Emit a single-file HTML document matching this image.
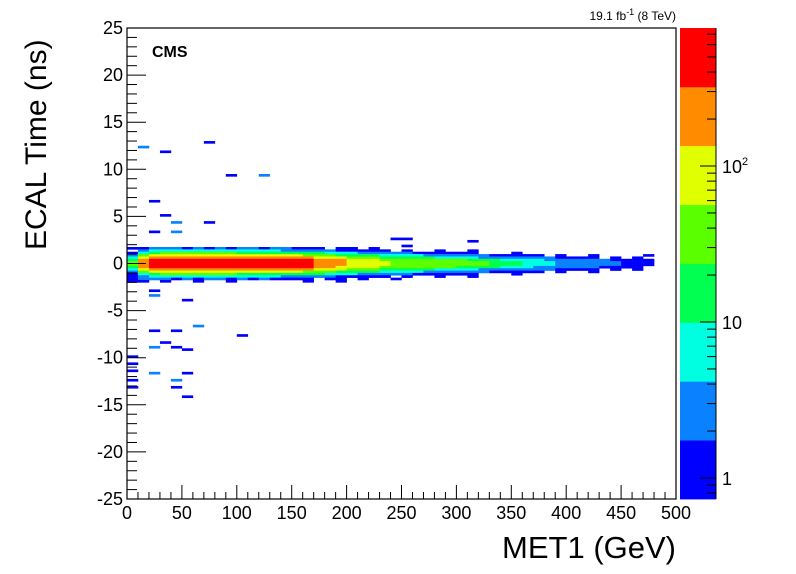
<!DOCTYPE html>
<html><head><meta charset="utf-8"><style>
body{margin:0;background:#fff;}
svg{display:block;font-family:"Liberation Sans",Arial,sans-serif;}
</style></head><body>
<svg id="chart" width="796" height="574" viewBox="0 0 796 574" xmlns="http://www.w3.org/2000/svg">
<rect width="796" height="574" fill="#fff"/>
<g id="cells"></g>
<g id="axes"></g>
<text x="152" y="57" font-size="16" font-weight="bold">CMS</text>
<text x="676" y="20" font-size="12" text-anchor="end">19.1 fb<tspan dy="-5" font-size="9">-1</tspan><tspan dy="5"> (8 TeV)</tspan></text>
<text transform="translate(46,250) rotate(-90)" font-size="30" text-anchor="start">ECAL Time (ns)</text>
<text x="676" y="558" font-size="31" text-anchor="end">MET1 (GeV)</text>
<g id="cbar"></g>
</svg>
<script>
const xBinWidth = 10;
const yBinHeight = 0.25;
const rowY = [1.5,1.25,1.0,0.75,0.5,0.25,0,-0.25,-0.5,-0.75,-1.0,-1.25,-1.5,-1.75,-2.0];
const row_p150=[1,1,2,2,2,1,3,1,2,1,2,2,1,2,2,1,1,1,0,1,1,0,1,0,0,0,0,0,0,0,0,0,0,0,0,0,0,0,0,0,0,0,0,0,0,0,0,0,0,0];
const row_p125=[0,2,5,6,7,7,7,6,6,6,5,5,5,5,4,4,3,2,2,1,1,1,1,1,0,1,0,0,1,0,0,1,0,0,0,0,0,0,0,0,0,0,0,0,0,0,0,0,0,0];
const row_p100=[1,8,20,25,28,28,28,25,24,24,22,20,20,20,18,18,14,10,8,6,5,4,3,2,2,2,1,1,1,1,1,1,0,0,0,1,0,0,0,0,0,0,0,0,0,0,0,0,0,0];
const row_p075=[3,30,90,110,110,110,110,100,95,95,90,80,80,80,75,75,55,40,30,22,18,14,10,8,7,6,5,4,3,3,2,2,2,1,1,1,1,1,0,1,0,0,1,0,0,0,0,0,0,0];
const row_p050=[8,90,250,300,300,300,300,280,260,260,240,220,220,220,200,200,150,110,80,60,45,35,28,22,18,15,12,10,9,7,6,5,4,4,3,3,2,2,2,1,1,1,1,0,1,0,1,0,0,0];
const row_p025=[20,220,600,700,700,700,700,650,600,600,580,560,560,560,520,500,380,280,180,140,110,80,65,55,45,40,35,30,30,25,25,20,16,12,9,7,6,5,4,3,3,2,2,2,1,1,1,1,0,0];
const row_p000=[25,250,700,800,800,800,800,750,700,700,650,600,600,600,550,550,400,300,200,150,120,90,70,60,50,45,40,40,35,35,30,30,25,20,15,10,8,6,5,4,3,3,2,2,2,1,1,1,0,0];
const row_m025=[25,250,700,800,800,800,800,750,700,700,650,600,600,600,550,550,400,300,200,150,120,90,70,60,50,45,40,40,35,35,30,30,25,20,15,10,8,6,5,4,3,3,2,2,2,1,1,1,0,0];
const row_m050=[20,200,560,650,650,650,650,600,560,560,540,520,520,520,480,460,350,260,170,130,100,75,60,50,40,35,32,30,28,25,22,20,15,12,9,7,5,4,3,3,2,2,2,1,1,1,1,0,0,0];
const row_m075=[8,90,250,300,300,300,300,280,260,260,240,220,220,220,200,200,150,110,80,60,45,35,28,22,18,15,12,10,9,7,6,5,4,4,3,3,2,2,2,1,1,1,1,0,1,0,1,0,0,0];
const row_m100=[3,30,90,110,110,110,110,100,95,95,90,80,80,80,75,75,55,40,30,22,18,14,10,8,7,6,5,4,3,3,2,2,2,1,1,1,1,1,0,1,0,0,1,0,0,0,0,0,0,0];
const row_m125=[1,8,20,25,28,28,28,25,24,24,22,20,20,20,18,18,14,10,8,6,5,4,3,2,2,2,1,1,1,1,1,1,0,0,0,1,0,0,0,0,0,0,0,0,0,0,0,0,0,0];
const row_m150=[1,3,5,6,7,7,7,6,6,6,5,5,5,5,4,4,3,2,2,1,1,1,1,1,0,1,0,0,1,0,0,1,0,0,0,0,0,0,0,0,0,0,0,0,0,0,0,0,0,0];
const row_m175=[1,2,2,2,1,2,1,2,2,1,2,1,2,1,1,1,1,0,1,1,0,1,0,0,1,0,0,0,0,0,0,0,0,0,0,0,0,0,0,0,0,0,0,0,0,0,0,0,0,0];
const row_m200=[1,1,0,1,0,0,1,0,0,1,0,0,0,0,0,0,1,0,0,1,0,0,0,0,0,0,0,0,0,0,0,0,0,0,0,0,0,0,0,0,0,0,0,0,0,0,0,0,0,0];
const rows=[row_p150,row_p125,row_p100,row_p075,row_p050,row_p025,row_p000,row_m025,row_m050,row_m075,row_m100,row_m125,row_m150,row_m175,row_m200];
const outliers=[[10,12.25,2],[30,11.75,1],[70,12.75,1],[90,9.25,1],[120,9.25,2],[20,6.5,1],[30,5,1],[40,4.25,2],[40,3.25,2],[70,4.25,1],[20,3.25,1],[240,2.5,1],[250,2.5,1],[250,1.75,1],[310,2.25,1],[470,0.75,1],[20,-3,1],[20,-3.5,2],[50,-4,1],[20,-7.25,1],[40,-7.25,1],[60,-6.75,2],[100,-7.75,1],[20,-9,2],[30,-8.5,1],[40,-9,1],[50,-9.25,1],[0,-10,1],[0,-10.75,1],[0,-11.5,1],[20,-11.75,2],[50,-11.75,1],[40,-12.5,2],[0,-12.5,1],[40,-13.25,1],[0,-13.25,1],[50,-14.25,1]];
const xTicks=[0,50,100,150,200,250,300,350,400,450,500];
const yTicks=[-25,-20,-15,-10,-5,0,5,10,15,20,25];
const zLabels=[[1,"1"],[10,"10"],[100,"10"]];
const palette=["#0000ff","#0a82ff","#00ffe0","#00ff50","#5aff00","#e0ff00","#ff8c00","#ff0000"];

const L=127,R=676,T=28,B=499;
const X=v=>L+(v-0)/(500-0)*(R-L);
const Y=v=>B-(v+25)/50*(B-T);
const Z=c=>478-Math.log10(c)*156;
function color(c){const k=Math.floor((B-Z(c))/((B-T)/8));return palette[Math.max(0,Math.min(7,k))];}
const NS="http://www.w3.org/2000/svg";
function mk(tag,at,parent){const e=document.createElementNS(NS,tag);for(const k in at)e.setAttribute(k,at[k]);parent.appendChild(e);return e;}
const cells=document.getElementById('cells');
function cell(x,y,c){
  const r=mk('rect',{x:X(x).toFixed(2),y:Y(y+yBinHeight).toFixed(2),width:(X(x+xBinWidth)-X(x)+0.3).toFixed(2),height:(Y(y)-Y(y+yBinHeight)+0.3).toFixed(2),fill:color(c)},cells);
  
  
}
rows.forEach((row,i)=>row.forEach((c,j)=>{if(c>0)cell(j*xBinWidth,rowY[i],c);}));
outliers.forEach(o=>cell(o[0],o[1],o[2]));

const ax=document.getElementById('axes');
mk('rect',{x:L,y:T,width:R-L,height:B-T,fill:'none',stroke:'#000','stroke-width':1.2},ax);
for(let v=0;v<=500;v+=10){const maj=v%50===0;mk('line',{x1:X(v),x2:X(v),y1:B,y2:B-(maj?14:7),stroke:'#000'},ax);}
xTicks.forEach(v=>{const t=mk('text',{x:X(v),y:B+20,'font-size':18,'text-anchor':'middle'},ax);t.textContent=v;});
for(let v=-25;v<=25;v+=1){const maj=v%5===0;mk('line',{x1:L,x2:L+(maj?19:10),y1:Y(v),y2:Y(v),stroke:'#000'},ax);}
yTicks.forEach(v=>{const t=mk('text',{x:L-4,y:Y(v)+6,'font-size':18,'text-anchor':'end'},ax);t.textContent=v;});

const cb=document.getElementById('cbar');
const CL=680,CR=716;
palette.forEach((p,i)=>{const h=(B-T)/8;const r=mk('rect',{x:CL,y:B-(i+1)*h,width:CR-CL,height:h+0.4,fill:p},cb);});
mk('line',{x1:CR,x2:CR,y1:T,y2:B,stroke:'#000'},cb);
for(let d=0.1;d<=1000;d*=10){for(let m=1;m<10;m++){const v=d*m;const y=Z(v);if(y<T||y>B)continue;const maj=m===1;mk('line',{x1:CR,x2:CR-(maj?16:9),y1:y,y2:y,stroke:'#000'},cb);}}
zLabels.forEach(z=>{const t=mk('text',{x:722,y:Z(z[0])+7,'font-size':18},cb);t.textContent=z[1];if(z[0]===100){const s=mk('tspan',{dy:-8,'font-size':11},t);s.textContent='2';}});
</script>
</body></html>
